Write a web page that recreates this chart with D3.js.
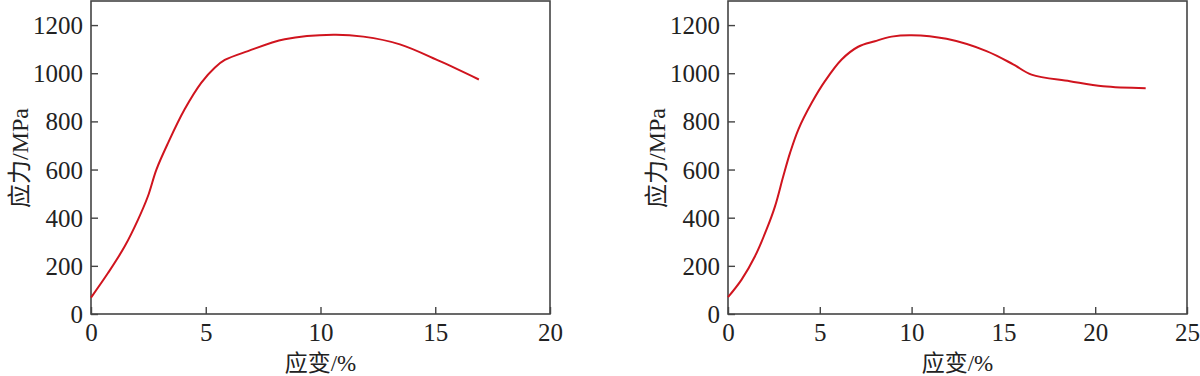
<!DOCTYPE html>
<html>
<head>
<meta charset="utf-8">
<script src="https://cdn.jsdelivr.net/npm/d3@7"></script>
<style>
    body { margin: 0; background: #fff; }
    text { font-family: "Liberation Serif", "Noto Sans CJK SC", serif; fill: #222; }
</style>
</head>
<body>
<div id="chart"></div>
<script>
// left specimen
const strainA = [0, 0.74, 1.47, 2.05, 2.48, 2.85, 3.36, 4.08, 4.81, 5.39, 5.83, 6.84, 8.44, 10.56, 11.87, 13.46, 15.2, 16.9];
const stressA = [68, 170, 281, 392, 489, 600, 711, 850, 961, 1023, 1055, 1092, 1141, 1160, 1152, 1120, 1050, 974];
// right specimen
const strainB = [0, 0.74, 1.47, 2.10, 2.56, 3.01, 3.38, 3.83, 4.56, 5.28, 6.19, 7.09, 8.0, 8.91, 10.0, 11.9, 14.08, 15.53, 16.53, 18.62, 20.43, 22.75];
const stressB = [70, 143, 240, 351, 447, 572, 669, 766, 877, 967, 1057, 1110, 1133, 1152, 1158, 1143, 1092, 1037, 994, 967, 946, 938];

const xTicksA = [0, 5, 10, 15, 20];
const xTicksB = [0, 5, 10, 15, 20, 25];
const yTicks = [0, 200, 400, 600, 800, 1000, 1200];

const xLabel = "应变/%";
const yLabel = "应力/MPa";

const svg = d3.select("#chart").append("svg")
    .attr("width", 1200)
    .attr("height", 376);

function drawPanel(left, xs, ys, xTicks) {
    const width = 459, top = 1, bottom = 314;
    const g = svg.append("g").attr("transform", `translate(${left},0)`);

    const x = d3.scaleLinear().domain([0, xTicks[xTicks.length - 1]]).range([0, width]);
    const y = d3.scaleLinear().domain([0, 1300]).range([bottom, top]);

    // frame
    g.append("rect")
        .attr("x", 0).attr("y", top)
        .attr("width", width).attr("height", bottom - top)
        .attr("fill", "none")
        .attr("stroke", "#444")
        .attr("stroke-width", 1.6);

    // inward ticks
    const xAxis = g.append("g").attr("transform", `translate(0,${bottom})`)
        .call(d3.axisBottom(x).tickValues(xTicks).tickFormat(d3.format("d"))
            .tickSizeInner(-7).tickSizeOuter(0).tickPadding(9));
    const yAxis = g.append("g")
        .call(d3.axisLeft(y).tickValues(yTicks).tickFormat(d3.format("d"))
            .tickSizeInner(-7).tickSizeOuter(0).tickPadding(8));

    [xAxis, yAxis].forEach(a => {
        a.select(".domain").remove();
        a.selectAll("line").attr("stroke", "#444").attr("stroke-width", 1.4);
        a.selectAll("text")
            .style("font-family", "Liberation Serif, serif")
            .style("font-size", "25px")
            .attr("fill", "#222");
    });
    xAxis.selectAll("text").attr("dy", "0.72em");
    yAxis.selectAll("text").attr("dy", "0.34em");

    const data = xs.map((d, i) => ({ strain: d, stress: ys[i] }));
    const line = d3.line()
        .x(d => x(d.strain))
        .y(d => y(d.stress))
        .curve(d3.curveCatmullRom.alpha(0.5));

    g.append("path")
        .datum(data)
        .attr("fill", "none")
        .attr("stroke", "#d0141e")
        .attr("stroke-width", 2)
        .attr("d", line);

    g.append("text")
        .attr("x", width / 2)
        .attr("y", 371)
        .attr("text-anchor", "middle")
        .style("font-size", "23px")
        .text(xLabel);

    g.append("text")
        .attr("transform", `translate(-63,158) rotate(-90)`)
        .attr("text-anchor", "middle")
        .style("font-size", "24px")
        .text(yLabel);
}

drawPanel(91, strainA, stressA, xTicksA);
drawPanel(728, strainB, stressB, xTicksB);
</script>
</body>
</html>
